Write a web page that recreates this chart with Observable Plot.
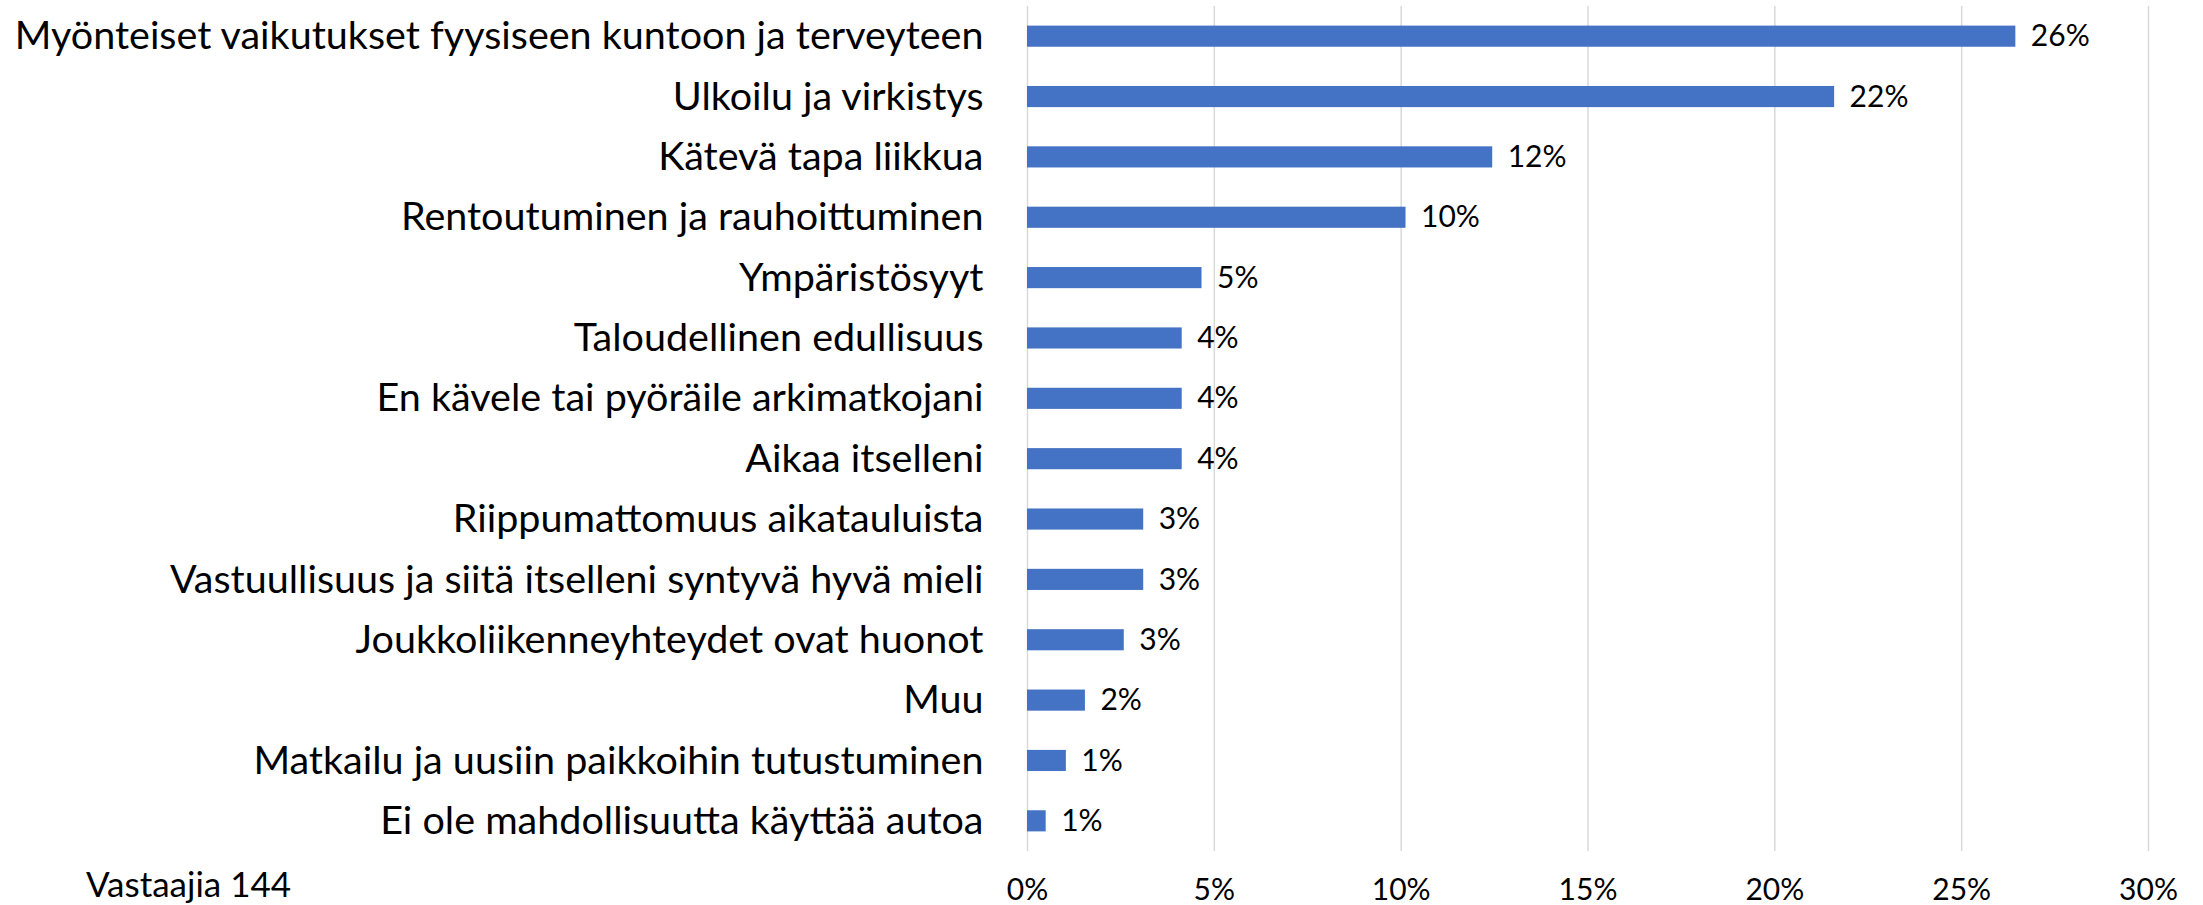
<!DOCTYPE html>
<html>
<head>
<meta charset="utf-8">
<script src="https://cdn.jsdelivr.net/npm/d3@7"></script>
<script src="https://cdn.jsdelivr.net/npm/@observablehq/plot@0.6"></script>
<style>
  html, body { margin: 0; padding: 0; background: #fff; }
  #wrap { position: relative; width: 2203px; height: 905px; }
  #caption { position: absolute; left: 86px; top: 866px; font-family: Lato, sans-serif; font-size: 35px; line-height: 35px; color: #000; white-space: nowrap; }
</style>
</head>
<body>
<div id="wrap">
  <div id="chart"></div>
  <div id="caption">Vastaajia 144</div>
</div>
<script>
const categories = [
  "Myönteiset vaikutukset fyysiseen kuntoon ja terveyteen",
  "Ulkoilu ja virkistys",
  "Kätevä tapa liikkua",
  "Rentoutuminen ja rauhoittuminen",
  "Ympäristösyyt",
  "Taloudellinen edullisuus",
  "En kävele tai pyöräile arkimatkojani",
  "Aikaa itselleni",
  "Riippumattomuus aikatauluista",
  "Vastuullisuus ja siitä itselleni syntyvä hyvä mieli",
  "Joukkoliikenneyhteydet ovat huonot",
  "Muu",
  "Matkailu ja uusiin paikkoihin tutustuminen",
  "Ei ole mahdollisuutta käyttää autoa"
];
const values = [26.45, 21.6, 12.45, 10.13, 4.67, 4.14, 4.14, 4.14, 3.11, 3.11, 2.59, 1.55, 1.04, 0.5];
const valueLabels = ["26%", "22%", "12%", "10%", "5%", "4%", "4%", "4%", "3%", "3%", "3%", "2%", "1%", "1%"];
const xTicks = [0, 5, 10, 15, 20, 25, 30];
const xTickLabels = ["0%", "5%", "10%", "15%", "20%", "25%", "30%"];

const data = categories.map((c, i) => ({category: c, value: values[i], label: valueLabels[i]}));
const tickLabelOf = new Map(xTicks.map((t, i) => [t, xTickLabels[i]]));

const chart = Plot.plot({
  width: 2203,
  height: 905,
  marginLeft: 1027,
  marginRight: 55,
  marginTop: 6,
  marginBottom: 54,
  style: {fontFamily: "Lato, sans-serif", fontSize: "30px", color: "#000", background: "#fff"},
  x: {domain: [0, 30], label: null},
  y: {domain: categories, paddingInner: 0.65, paddingOuter: 0.325, round: false, axis: null},
  marks: [
    Plot.ruleX(xTicks, {stroke: "#d9d9d9", strokeWidth: 1.5}),
    Plot.barX(data, {x: "value", y: "category", fill: "#4472C4"}),
    Plot.text(data, {x: "value", y: "category", text: "label", textAnchor: "start", dx: 15, fontSize: 30, fill: "#000"}),
    Plot.text(data, {y: "category", text: "category", frameAnchor: "left", textAnchor: "end", dx: -44, fontSize: 39.5, fill: "#000"}),
    Plot.axisX(xTicks, {tickSize: 0, tickPadding: 27, tickFormat: d => tickLabelOf.get(d), fontSize: 30, fill: "#000", label: null})
  ]
});
document.getElementById("chart").appendChild(chart);
</script>
</body>
</html>
